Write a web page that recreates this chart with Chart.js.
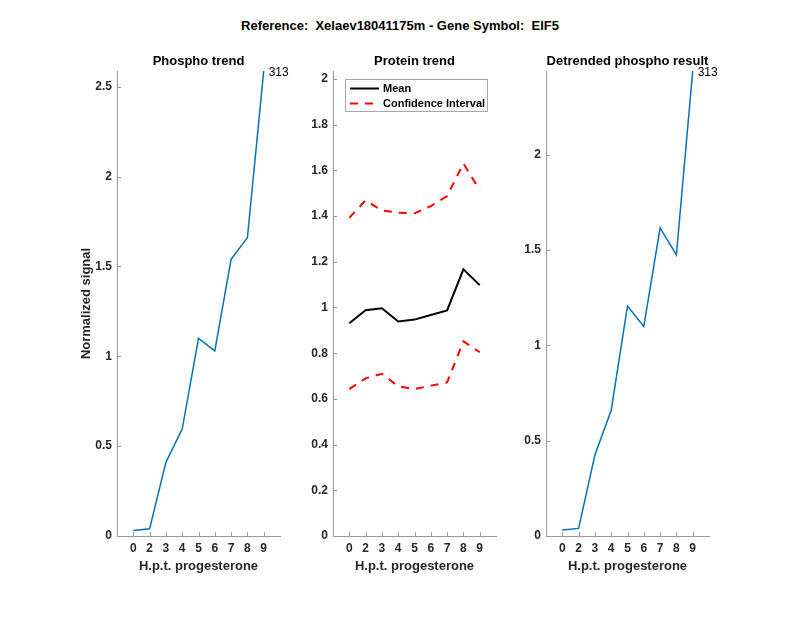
<!DOCTYPE html>
<html>
<head>
<meta charset="utf-8">
<script src="https://cdn.jsdelivr.net/npm/chart.js@4.4.0/dist/chart.umd.min.js"></script>
<style>
  body { margin: 0; background: #fff; width: 800px; height: 618px; position: relative; overflow: hidden; }
  #title { position: absolute; left: 0; top: 18px; width: 800px; text-align: center; white-space: pre;
           font: bold 13px "Liberation Sans", Arial, sans-serif; line-height: 16px; color: #000; }
  canvas { position: absolute; top: 0; }
</style>
</head>
<body>
<div id="title">Reference:  Xelaev18041175m - Gene Symbol:  EIF5</div>
<canvas id="phospho" width="263" height="618" style="left:57px"></canvas>
<canvas id="protein" width="263" height="618" style="left:273px"></canvas>
<canvas id="detrended" width="263" height="618" style="left:486px"></canvas>
<script>
const FONT = "'Liberation Sans', Arial, sans-serif";

// hours post treatment (plotted at equal spacing)
const hours = ["0", "2", "3", "4", "5", "6", "7", "8", "9"];

const phospho = [0.03, 0.04, 0.41, 0.595, 1.10, 1.03, 1.54, 1.66, 2.588];
const proteinMean = [0.931, 0.988, 0.997, 0.939, 0.947, 0.967, 0.987, 1.167, 1.098];
const proteinUpper = [1.393, 1.469, 1.425, 1.415, 1.412, 1.444, 1.488, 1.63, 1.514];
const proteinLower = [0.643, 0.69, 0.71, 0.655, 0.643, 0.658, 0.672, 0.852, 0.804];
const detrended = [0.031, 0.04, 0.425, 0.66, 1.207, 1.10, 1.617, 1.475, 2.44];

const phosphoTicks = [0, 0.5, 1, 1.5, 2, 2.5];
const proteinTicks = [0, 0.2, 0.4, 0.6, 0.8, 1, 1.2, 1.4, 1.6, 1.8, 2];
const detrendedTicks = [0, 0.5, 1, 1.5, 2];

const peptideId = "313";

Chart.defaults.font.family = FONT;
Chart.defaults.color = "#262626";

function toPoints(arr) {
  return arr.map((v, i) => ({ x: i, y: v }));
}

// inward ticks, subplot title, end label and legend box
const decor = {
  id: "decor",
  afterDraw(chart, args, o) {
    const { ctx, chartArea: a, scales: { x, y } } = chart;
    ctx.save();
    ctx.strokeStyle = "#999";
    ctx.lineWidth = 1;
    ctx.beginPath();
    y.ticks.forEach(t => {
      const py = Math.round(y.getPixelForValue(t.value)) + 0.5;
      ctx.moveTo(a.left, py);
      ctx.lineTo(a.left + 4, py);
    });
    x.ticks.forEach(t => {
      const px = Math.round(x.getPixelForValue(t.value)) + 0.5;
      ctx.moveTo(px, a.bottom);
      ctx.lineTo(px, a.bottom - 4);
    });
    ctx.stroke();

    ctx.fillStyle = "#000";
    ctx.font = "bold 13px " + FONT;
    ctx.textAlign = "center";
    ctx.textBaseline = "middle";
    ctx.fillText(o.title, (a.left + a.right) / 2, 61);

    if (o.endLabel) {
      const pts = chart.getDatasetMeta(0).data;
      const last = pts[pts.length - 1];
      ctx.font = "12px " + FONT;
      ctx.textAlign = "left";
      ctx.fillText(o.endLabel, last.x + 5, last.y + 1.5);
    }

    if (o.legend) {
      const bx = a.left + 12, by = a.top + 8, bw = 142, bh = 32;
      ctx.fillStyle = "#fff";
      ctx.fillRect(bx, by, bw, bh);
      ctx.strokeStyle = "#a6a6a6";
      ctx.strokeRect(bx + 0.5, by + 0.5, bw, bh);
      const items = [chart.data.datasets[0], chart.data.datasets[1]];
      items.forEach((ds, i) => {
        const ly = by + 9.5 + i * 15;
        ctx.strokeStyle = ds.borderColor;
        ctx.lineWidth = ds.borderWidth;
        ctx.setLineDash(ds.borderDash || []);
        ctx.beginPath();
        ctx.moveTo(bx + 5, ly);
        ctx.lineTo(bx + 34, ly);
        ctx.stroke();
        ctx.setLineDash([]);
        ctx.fillStyle = "#000";
        ctx.font = "bold 11px " + FONT;
        ctx.textAlign = "left";
        ctx.fillText(ds.label, bx + 38, ly);
      });
    }
    ctx.restore();
  }
};

function makePanel(id, title, datasets, yMax, yTicks, yTitle, endLabel, legend) {
  return new Chart(document.getElementById(id), {
    type: "line",
    data: { datasets: datasets },
    options: {
      responsive: false,
      animation: false,
      events: [],
      layout: { padding: { top: 71, right: 40, bottom: 0, left: 0 } },
      elements: { point: { radius: 0 }, line: { tension: 0 } },
      scales: {
        x: {
          type: "linear",
          min: -1,
          max: 9,
          afterFit: s => { s.height = 82; },
          afterBuildTicks: s => { s.ticks = hours.map((h, i) => ({ value: i })); },
          grid: { display: false, drawTicks: false },
          border: { display: true, color: "#999" },
          ticks: {
            padding: 5, autoSkip: false, maxRotation: 0,
            font: { size: 12, weight: "bold" },
            callback: v => hours[v]
          },
          title: {
            display: true, text: "H.p.t. progesterone",
            font: { size: 13, weight: "bold" },
            padding: { top: 0, bottom: 44 }
          }
        },
        y: {
          type: "linear",
          min: 0,
          max: yMax,
          afterFit: s => { s.width = 60; },
          afterBuildTicks: s => { s.ticks = yTicks.map(v => ({ value: v })); },
          grid: { display: false, drawTicks: false },
          border: { display: true, color: "#999" },
          ticks: {
            padding: 5,
            font: { size: 12, weight: "bold" },
            callback: v => String(+v.toFixed(2))
          },
          title: {
            display: !!yTitle, text: yTitle || "",
            font: { size: 13, weight: "bold" },
            padding: { top: 22, bottom: 0 }
          }
        }
      },
      plugins: {
        legend: { display: false },
        tooltip: { enabled: false },
        decor: { title: title, endLabel: endLabel, legend: legend }
      }
    },
    plugins: [decor]
  });
}

const blue = "#0072BD";

makePanel("phospho", "Phospho trend",
  [{ label: "Phospho", data: toPoints(phospho), borderColor: blue, borderWidth: 1.5 }],
  2.588, phosphoTicks, "Normalized signal", peptideId, false);

makePanel("protein", "Protein trend",
  [
    { label: "Mean", data: toPoints(proteinMean), borderColor: "#000", borderWidth: 2 },
    { label: "Confidence Interval", data: toPoints(proteinUpper), borderColor: "#ff0000", borderWidth: 2, borderDash: [8, 7] },
    { label: "Confidence Interval", data: toPoints(proteinLower), borderColor: "#ff0000", borderWidth: 2, borderDash: [8, 7] }
  ],
  2.035, proteinTicks, null, null, true);

makePanel("detrended", "Detrended phospho result",
  [{ label: "Detrended", data: toPoints(detrended), borderColor: blue, borderWidth: 1.5 }],
  2.44, detrendedTicks, null, peptideId, false);
</script>
</body>
</html>
